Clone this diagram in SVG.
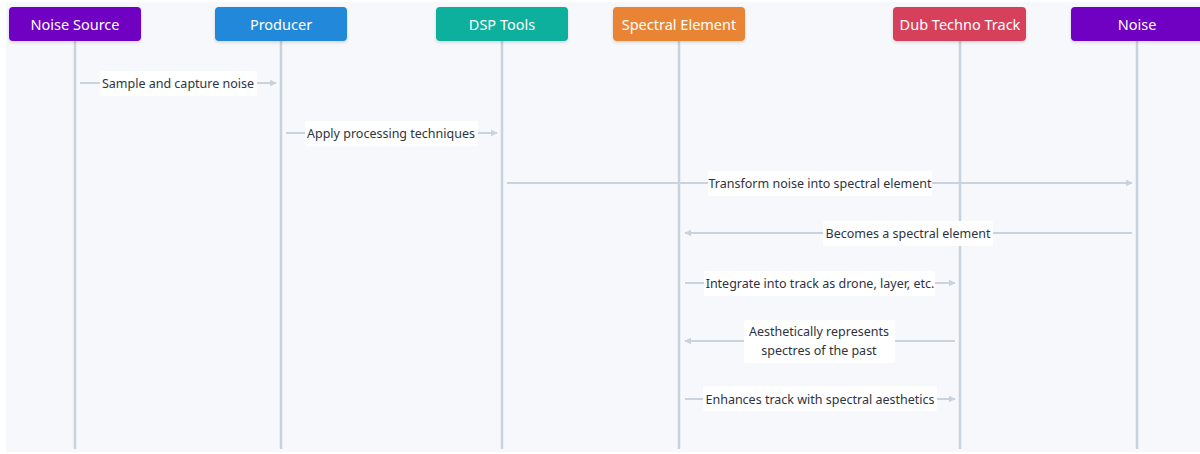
<svg xmlns="http://www.w3.org/2000/svg" width="1200" height="454" viewBox="0 0 1200 454">
<defs>
<style>
.hdr{font-family:"Noto Sans","DejaVu Sans",sans-serif;font-size:14.5px;fill:#ffffff;text-anchor:middle;font-weight:normal}
.lbl{font-family:"Noto Sans","DejaVu Sans",sans-serif;font-size:12.5px;fill:#2d3440;text-anchor:middle}
.life{stroke:#c8d3de;stroke-width:2.5}
.msg{stroke:#c8d3de;stroke-width:2;fill:none}
.lbg{fill:#ffffff}
</style>
<marker id="arr" viewBox="0 0 10 10" refX="9" refY="5" markerWidth="7" markerHeight="7" orient="auto-start-reverse" markerUnits="userSpaceOnUse">
<path d="M0,0 L10,5 L0,10 z" fill="#c8d3de"/>
</marker>
<filter id="sh" x="-10%" y="-20%" width="120%" height="160%">
<feDropShadow dx="0" dy="1.5" stdDeviation="1.5" flood-color="#000" flood-opacity="0.15"/>
</filter>
</defs>
<rect x="0" y="0" width="1200" height="454" fill="#ffffff"/>
<rect x="6" y="2" width="1194" height="450" fill="#f7f8fb"/>
<g id="lifelines">
<line class="life" x1="75" y1="41" x2="75" y2="449"/>
<line class="life" x1="281" y1="41" x2="281" y2="449"/>
<line class="life" x1="502" y1="41" x2="502" y2="449"/>
<line class="life" x1="679" y1="41" x2="679" y2="449"/>
<line class="life" x1="960" y1="41" x2="960" y2="449"/>
<line class="life" x1="1137" y1="41" x2="1137" y2="449"/>
</g>
<g id="node-noise-source"><rect x="9" y="7" width="132" height="34" rx="4" fill="#7000c2" filter="url(#sh)"/><text class="hdr" x="75" y="29.5">Noise Source</text></g>
<g id="node-producer"><rect x="215" y="7" width="132" height="34" rx="4" fill="#2188da" filter="url(#sh)"/><text class="hdr" x="281" y="29.5">Producer</text></g>
<g id="node-dsp-tools"><rect x="436" y="7" width="132" height="34" rx="4" fill="#0db09c" filter="url(#sh)"/><text class="hdr" x="502" y="29.5">DSP Tools</text></g>
<g id="node-spectral-element"><rect x="613" y="7" width="132" height="34" rx="4" fill="#ea8434" filter="url(#sh)"/><text class="hdr" x="679" y="29.5">Spectral Element</text></g>
<g id="node-dub-techno-track"><rect x="893" y="7" width="133" height="34" rx="4" fill="#d6405a" filter="url(#sh)"/><text class="hdr" x="960" y="29.5">Dub Techno Track</text></g>
<g id="node-noise"><rect x="1071" y="7" width="135" height="34" rx="4" fill="#7000c2" filter="url(#sh)"/><text class="hdr" x="1137" y="29.5">Noise</text></g>
<g id="connectors">
<line class="msg" x1="80" y1="83" x2="276" y2="83" marker-end="url(#arr)"/>
<rect class="lbg" x="100" y="71" width="157" height="25" rx="2"/>
<text class="lbl" x="178" y="88">Sample and capture noise</text>

<line class="msg" x1="286" y1="133" x2="497" y2="133" marker-end="url(#arr)"/>
<rect class="lbg" x="305" y="121" width="173" height="25" rx="2"/>
<text class="lbl" x="391" y="138">Apply processing techniques</text>

<line class="msg" x1="507" y1="183" x2="1132" y2="183" marker-end="url(#arr)"/>
<rect class="lbg" x="708" y="171" width="224" height="25" rx="2"/>
<text class="lbl" x="820" y="188">Transform noise into spectral element</text>

<line class="msg" x1="1132" y1="233" x2="685" y2="233" marker-end="url(#arr)"/>
<rect class="lbg" x="823" y="221" width="170" height="25" rx="2"/>
<text class="lbl" x="908" y="238">Becomes a spectral element</text>

<line class="msg" x1="685" y1="283" x2="955" y2="283" marker-end="url(#arr)"/>
<rect class="lbg" x="704" y="271" width="231" height="25" rx="2"/>
<text class="lbl" x="820" y="288">Integrate into track as drone, layer, etc.</text>

<line class="msg" x1="955" y1="341" x2="685" y2="341" marker-end="url(#arr)"/>
<rect class="lbg" x="744" y="320" width="151" height="43" rx="2"/>
<text class="lbl" x="819" y="336">Aesthetically represents</text>
<text class="lbl" x="819" y="355">spectres of the past</text>

<line class="msg" x1="685" y1="399" x2="955" y2="399" marker-end="url(#arr)"/>
<rect class="lbg" x="703" y="386" width="234" height="25" rx="2"/>
<text class="lbl" x="820" y="404">Enhances track with spectral aesthetics</text>
</g>
</svg>
